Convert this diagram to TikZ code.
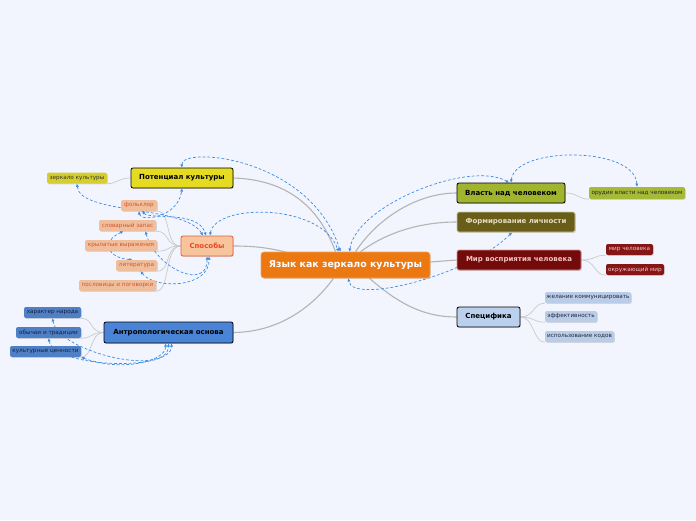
\documentclass[tikz,border=0pt]{standalone}
\usepackage{fontspec}
\setmainfont{DejaVu Sans}
\usetikzlibrary{arrows.meta,shadows}
\pgfdeclarelayer{back}
\pgfdeclarelayer{bg}
\pgfsetlayers{back,bg,main}
\definecolor{bgc}{HTML}{F2F5FD}
\definecolor{linkgray}{HTML}{B4B4B4}
\definecolor{sublinkgray}{HTML}{CACACA}
\definecolor{relblue}{HTML}{3D8BE6}
\definecolor{corange}{HTML}{EC7811}
\definecolor{corangeb}{HTML}{F4A456}
\definecolor{cyellow}{HTML}{E5DB22}
\definecolor{cyellows}{HTML}{D5CE2E}
\definecolor{cspos}{HTML}{F8C49C}
\definecolor{csposb}{HTML}{E2603C}
\definecolor{cspost}{HTML}{E8482A}
\definecolor{csposc}{HTML}{EFBE9C}
\definecolor{csposct}{HTML}{D8552A}
\definecolor{canth}{HTML}{4A84D6}
\definecolor{canthc}{HTML}{4F80C6}
\definecolor{canthct}{HTML}{14213A}
\definecolor{cvlast}{HTML}{A1B42E}
\definecolor{corud}{HTML}{A6BA38}
\definecolor{cform}{HTML}{695E19}
\definecolor{cformb}{HTML}{CFC79A}
\definecolor{cformt}{HTML}{E6DEC0}
\definecolor{cmir}{HTML}{740B0B}
\definecolor{cmirb}{HTML}{D89090}
\definecolor{cmirt}{HTML}{F2C4C4}
\definecolor{cmirc}{HTML}{861515}
\definecolor{cspec}{HTML}{BBD0EC}
\definecolor{cspecc}{HTML}{BACDE8}
\definecolor{cspecct}{HTML}{222838}
\tikzset{
  x=1pt, y=-1pt,
  box/.style={rectangle, rounded corners=2pt, inner sep=0pt, align=center,
    drop shadow={shadow xshift=0.8pt, shadow yshift=-0.9pt, opacity=0.25}},
  mainbox/.style={box, draw=black, line width=0.8pt,
    font=\fontsize{7}{8}\selectfont\bfseries, minimum height=20pt},
  subbox/.style={box, font=\fontsize{5.7}{6}\selectfont, minimum height=11pt},
  link/.style={draw=linkgray, line width=1.1pt},
  sublink/.style={draw=sublinkgray, line width=0.7pt},
  rel/.style={draw=relblue, dash pattern=on 2.8pt off 2pt, line width=0.7pt,
    >={Latex[length=3.2pt,width=3.2pt]}, <->},
}
\begin{document}
\begin{tikzpicture}
\begin{pgfonlayer}{back}
\fill[bgc] (0,0) rectangle (696,520);
\end{pgfonlayer}
\useasboundingbox (0,0) rectangle (696,520);

% central node
\node[box, fill=corange, draw=corangeb, line width=0.6pt, rounded corners=3pt,
  minimum width=169pt, minimum height=26pt, text=white,
  font=\fontsize{9.4}{10}\selectfont\bfseries] (c) at (345.5,265) {Язык как зеркало культуры};

% left branches
\node[mainbox, fill=cyellow, minimum width=102pt] (pot) at (182,178) {Потенциал культуры};
\node[subbox, fill=cyellows, text=black!80, minimum width=60pt] (zerk) at (77,178) {зеркало культуры};

\node[mainbox, fill=cspos, draw=csposb, text=cspost, minimum width=52pt] (spos) at (207,246) {Способы};
\node[subbox, fill=csposc, text=csposct, minimum width=36pt] (folk) at (139,205.5) {фольклор};
\node[subbox, fill=csposc, text=csposct, minimum width=57pt] (slov) at (127.5,225.5) {словарный запас};
\node[subbox, fill=csposc, text=csposct, minimum width=72pt] (kryl) at (121,245.5) {крылатые выражения};
\node[subbox, fill=csposc, text=csposct, minimum width=41pt] (lit) at (136.5,265.5) {литература};
\node[subbox, fill=csposc, text=csposct, minimum width=77pt] (posl) at (117.5,285.5) {пословицы и поговорки};

\node[mainbox, fill=canth, minimum width=129pt, minimum height=21pt] (anth) at (168.5,332.5) {Антропологическая основа};
\node[subbox, fill=canthc, text=canthct, minimum width=57pt] (char) at (52.5,312.5) {характер народа};
\node[subbox, fill=canthc, text=canthct, minimum width=65pt] (obych) at (48.5,332.5) {обычаи и традиции};
\node[subbox, fill=canthc, text=canthct, minimum width=71pt] (kult) at (45.5,351.5) {культурные ценности};

% right branches
\node[mainbox, fill=cvlast, minimum width=108pt] (vlast) at (511,193) {Власть над человеком};
\node[subbox, fill=corud, text=black!85, minimum width=96pt, minimum height=12pt] (orud) at (637,193) {орудие власти над человеком};

\node[mainbox, fill=cform, draw=cformb, text=cformt, minimum width=118pt] (form) at (516,222) {Формирование личности};

\node[mainbox, fill=cmir, draw=cmirb, text=cmirt, minimum width=124pt] (mir) at (519,260) {Мир восприятия человека};
\node[subbox, fill=cmirc, text=cmirt, minimum width=47pt] (mirc) at (629.5,249.5) {мир человека};
\node[subbox, fill=cmirc, text=cmirt, minimum width=58pt] (okr) at (635,269.5) {окружающий мир};

\node[mainbox, fill=cspec, minimum width=63pt] (spec) at (488.5,317) {Специфика};
\node[subbox, fill=cspecc, text=cspecct, minimum width=86pt] (zhel) at (588,297.5) {желание коммуницировать};
\node[subbox, fill=cspecc, text=cspecct, minimum width=52pt] (eff) at (571,316.5) {эффективность};
\node[subbox, fill=cspecc, text=cspecct, minimum width=69pt] (isp) at (579.5,336.5) {использование кодов};

\begin{pgfonlayer}{bg}
% main links
\draw[link] (pot.east) .. controls (295,180) and (322,215) .. ([xshift=-10pt]c.north);
\draw[link] (spos.east) .. controls (265,246) and (285,250) .. ([xshift=-20pt]c.center);
\draw[link] (anth.east) .. controls (285,332) and (318,300) .. ([xshift=-12pt]c.south);
\draw[link] ([xshift=10pt]c.north) .. controls (380,215) and (420,193) .. (vlast.west);
\draw[link] ([xshift=15pt]c.north) .. controls (390,230) and (425,222) .. (form.west);
\draw[link] ([yshift=3pt]c.east) -- (mir.west);
\draw[link] ([xshift=24pt]c.south) .. controls (400,305) and (425,317) .. (spec.west);
% sub links
\draw[sublink] (pot.west) .. controls +(-12,0) and +(10,0) .. (zerk.south east);
\foreach \n in {folk,slov,kryl,lit,posl}
  \draw[sublink] (spos.west) .. controls +(-16,0) and +(14,0) .. (\n.south east);
\foreach \n in {char,obych,kult}
  \draw[sublink] (anth.west) .. controls +(-14,0) and +(12,0) .. (\n.south east);
\foreach \n in {zhel,eff,isp}
  \draw[sublink] (spec.east) .. controls +(14,0) and +(-12,0) .. (\n.south west);
\foreach \n in {mirc,okr}
  \draw[sublink] (mir.east) .. controls +(14,0) and +(-12,0) .. (\n.south west);
\draw[sublink] (vlast.east) .. controls +(12,0) and +(-10,0) .. (orud.south west);
% relations
\draw[rel] (pot.north) .. controls (180,146) and (310,156) .. ([xshift=-5pt]c.north);
\draw[rel] ([xshift=3pt]spos.north) .. controls (215,203) and (322,203) .. ([xshift=-7pt]c.north);
\draw[rel] ([xshift=4pt]c.north) .. controls (356,205) and (470,160) .. ([xshift=-2pt]vlast.north);
\draw[rel] (vlast.north) .. controls (515,146) and (635,146) .. (orud.north);
\draw[rel] ([xshift=-4pt]form.south) .. controls (470,275) and (352,305) .. ([xshift=3pt]c.south);
\draw[rel] (zerk.south) .. controls (80,215) and (185,205) .. ([xshift=-4pt]spos.north);
\draw[rel] (folk.south) .. controls (140,222) and (178,218) .. (pot.south);
\draw[rel] ([xshift=3pt]folk.south) .. controls (150,220) and (198,210) .. ([xshift=-1pt]spos.north);
\draw[rel] ([xshift=-4pt]slov.south) .. controls (100,242) and (108,258) .. ([xshift=-4pt]lit.north);
\draw[rel] ([xshift=18pt]slov.south) .. controls (155,268) and (208,292) .. (spos.south);
\draw[rel] ([xshift=4pt]lit.south) .. controls (155,290) and (210,288) .. ([xshift=2pt]spos.south);
\draw[rel] (char.south) .. controls (58,352) and (168,378) .. (anth.south);
\draw[rel] (obych.south) .. controls (55,368) and (172,372) .. ([xshift=3pt]anth.south);
\draw[rel] (kult.south east) .. controls (120,372) and (166,362) .. ([xshift=-3pt]anth.south);
\end{pgfonlayer}
\end{tikzpicture}
\end{document}
